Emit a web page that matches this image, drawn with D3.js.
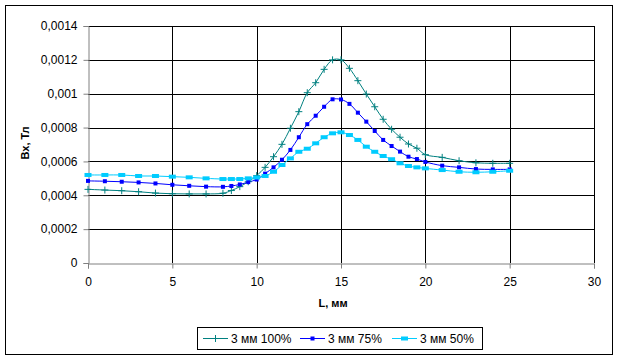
<!DOCTYPE html>
<html><head><meta charset="utf-8">
<script src="https://cdn.jsdelivr.net/npm/d3@7/dist/d3.min.js"></script>
<style>body{margin:0;background:#fff}svg{display:block;font-family:"Liberation Sans",Arial,sans-serif}</style>
</head><body><svg id="c" width="618" height="360"></svg>
<script>
const xs = [0,1,2,3,4,5,6,7,8,8.5,9,9.5,10,10.5,11,11.5,12,12.5,13,13.5,14,14.5,15,15.5,16,16.5,17,17.5,18,18.5,19,19.5,20,21,22,23,24,25];
const s100 = [0.000435,0.000431,0.000427,0.000421,0.000413,0.000409,0.000408,0.000408,0.000412,0.000428,0.000451,0.00048,0.000516,0.000565,0.000628,0.000701,0.000796,0.000894,0.001006,0.001065,0.001144,0.0012,0.0012,0.00115,0.001077,0.000998,0.000923,0.000849,0.00079,0.000743,0.000703,0.000678,0.000640,0.000624,0.000604,0.000592,0.000589,0.000589];
const s75 = [0.000485,0.000483,0.00048,0.000476,0.00047,0.000462,0.000456,0.000451,0.00045,0.000455,0.000464,0.000478,0.000493,0.000528,0.000565,0.00061,0.000668,0.000743,0.00082,0.00087,0.000923,0.000967,0.000966,0.00094,0.000888,0.000835,0.00078,0.000727,0.000691,0.000658,0.000628,0.000614,0.000597,0.000575,0.000565,0.000555,0.000553,0.000553];
const s50 = [0.00052,0.00052,0.00052,0.000514,0.000514,0.00051,0.000506,0.0005,0.000496,0.000496,0.000496,0.0005,0.000505,0.000514,0.000539,0.000579,0.000618,0.000657,0.000675,0.000707,0.000743,0.000766,0.000772,0.000756,0.000727,0.000687,0.000657,0.000632,0.000613,0.000589,0.000573,0.000565,0.000559,0.000549,0.000539,0.000536,0.000539,0.000545];
const seriesNames = ["3 мм 100%","3 мм 75%","3 мм 50%"];
const colors = ["#008080","#0000FF","#00CCFF"];
const xTicks = [0,5,10,15,20,25,30];
const yTicks = [0,0.0002,0.0004,0.0006,0.0008,0.001,0.0012,0.0014];
const yTickLabels = ["0","0,0002","0,0004","0,0006","0,0008","0,001","0,0012","0,0014"];

const svg = d3.select("#c");
svg.append("rect").attr("x",5.5).attr("y",5.5).attr("width",607).attr("height",349).attr("fill","#fff").attr("stroke","#000");

const x = d3.scaleLinear().domain([0,30]).range([88,594]);
const y = d3.scaleLinear().domain([0,0.0014]).range([263,26]);

// gridlines
const g = svg.append("g");
g.selectAll(".hg").data(yTicks.slice(1)).enter().append("line")
  .attr("x1",x(0)).attr("x2",x(30)).attr("y1",d=>Math.round(y(d))+0.5).attr("y2",d=>Math.round(y(d))+0.5)
  .attr("stroke","#000").attr("stroke-width",1);
g.selectAll(".vg").data(xTicks.slice(1)).enter().append("line")
  .attr("y1",y(0)).attr("y2",y(0.0014)).attr("x1",d=>Math.round(x(d))+0.5).attr("x2",d=>Math.round(x(d))+0.5)
  .attr("stroke","#000").attr("stroke-width",1);

// axes
const xAxis = d3.axisBottom(x).tickValues(xTicks).tickSize(5).tickFormat(d3.format("d"));
const yAxis = d3.axisLeft(y).tickValues(yTicks).tickSize(5).tickFormat((d,i)=>yTickLabels[i]);
const xa = svg.append("g").attr("transform",`translate(0,${Math.round(y(0))+0.5})`).call(xAxis);
const ya = svg.append("g").attr("transform",`translate(${Math.round(x(0))+0.5},0)`).call(yAxis);
[xa,ya].forEach(a=>{
  a.select(".domain").attr("stroke","#808080");
  a.selectAll(".tick line").attr("stroke","#808080");
  a.selectAll("text").attr("fill","#000").style("font-size","12px").style("font-family","'Liberation Sans',Arial,sans-serif");
});
xa.selectAll("text").attr("dy","1.2em");
ya.selectAll("text").attr("x",-11);

// series
const all = [s100,s75,s50];
const line = d3.line().x((d,i)=>x(xs[i])).y(d=>y(d)).curve(d3.curveCatmullRom);
all.forEach((s,k)=>{
  svg.append("path").datum(s).attr("d",line).attr("fill","none").attr("stroke",colors[k]).attr("stroke-width",1);
});
function marker(sel,k,cx,cy){
  if(k===0){
    sel.append("path").attr("d",`M${cx-3.5},${cy}H${cx+3.5}M${cx},${cy-3.5}V${cy+3.5}`).attr("stroke",colors[0]).attr("stroke-width",1).attr("fill","none");
  } else if(k===1){
    sel.append("rect").attr("x",cx-2).attr("y",cy-2).attr("width",4).attr("height",4).attr("fill",colors[1]);
  } else {
    sel.append("rect").attr("x",cx-3.5).attr("y",cy-2).attr("width",7).attr("height",4).attr("fill",colors[2]);
  }
}
all.forEach((s,k)=>{
  const mg = svg.append("g");
  s.forEach((v,i)=>marker(mg,k,x(xs[i]),y(v)));
});

// axis titles
svg.append("text").attr("x",333).attr("y",307).attr("text-anchor","middle").style("font-size","11px").style("font-weight","bold").text("L, мм");
svg.append("text").attr("transform","translate(29,143) rotate(-90)").attr("text-anchor","middle").style("font-size","11px").style("font-weight","bold").text("Вх, Тл");

// legend
const lg = svg.append("g");
lg.append("rect").attr("x",197.5).attr("y",327.5).attr("width",285).attr("height",22).attr("fill","#fff").attr("stroke","#000");
const lx = [203,300,392];
seriesNames.forEach((n,k)=>{
  const yy = 338.5;
  lg.append("line").attr("x1",lx[k]).attr("x2",lx[k]+25).attr("y1",yy).attr("y2",yy).attr("stroke",colors[k]).attr("stroke-width",1);
  marker(lg,k,lx[k]+12.5,yy);
  lg.append("text").attr("x",lx[k]+28).attr("y",yy+4.5).style("font-size","12px").attr("fill","#000").text(n);
});
</script></body></html>
